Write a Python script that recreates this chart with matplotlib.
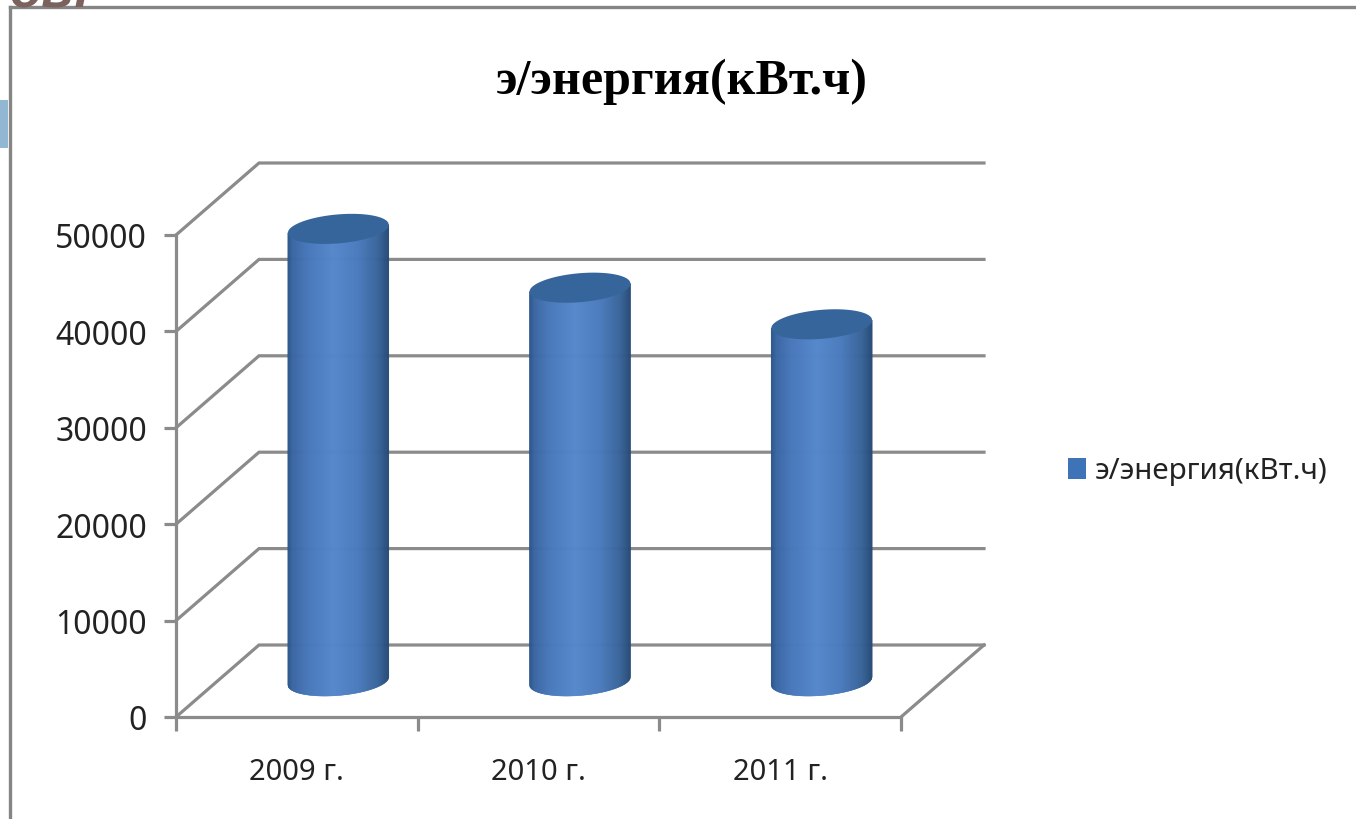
import numpy as np
import matplotlib
matplotlib.use("Agg")
import matplotlib.pyplot as plt
from matplotlib.collections import PolyCollection
from matplotlib.lines import Line2D
from matplotlib.patches import Patch, Polygon, Rectangle
from matplotlib.transforms import IdentityTransform

# --- data ---
categories = ["2009 г.", "2010 г.", "2011 г."]
energy = [46900, 40800, 37000]
y_ticks = [0, 10000, 20000, 30000, 40000, 50000]
series_name = "э/энергия(кВт.ч)"

W, H = 1356, 820
GRID = "#8b8b8b"
LW = 2.3

fig = plt.figure(figsize=(W / 100, H / 100), dpi=100, facecolor="white")
ax = fig.add_axes([176 / W, (H - 718) / H, (901 - 176) / W, 482 / H])
ax.set_xlim(-0.5, len(categories) - 0.5)
ax.set_ylim(0, max(y_ticks))
ax.patch.set_visible(False)

# slide remnants behind the chart
fig.add_artist(Rectangle((0, (H - 149) / H), 8 / W, 48 / H, transform=fig.transFigure,
                         facecolor="#92b7d3", edgecolor="none"))
fig.add_artist(Line2D([10 / W, 10 / W], [0, (H - 8) / H], color="#858585", lw=2.4))
fig.add_artist(Line2D([10 / W, 1], [(H - 8) / H, (H - 8) / H], color="#858585", lw=2.4))
fig.text(9 / W, (H - 7) / H, "ов:", family="Liberation Sans", style="italic", weight="bold",
         fontsize=38, color="#7b625c", ha="left", va="baseline")

# axes styling
for s in ("top", "right"):
    ax.spines[s].set_visible(False)
for s in ("left", "bottom"):
    ax.spines[s].set_color(GRID)
    ax.spines[s].set_linewidth(LW)
ax.set_yticks(y_ticks)
ax.set_yticklabels([str(v) for v in y_ticks], family="Noto Sans", fontsize=23, color="#222222")
ax.tick_params(axis="y", length=8.5, width=LW, color=GRID, pad=12.5)
ax.set_xticks(np.arange(len(categories) + 1) - 0.5)
ax.set_xticklabels([])
ax.tick_params(axis="x", which="major", length=10, width=LW, color=GRID)
ax.set_xticks(np.arange(len(categories)), minor=True)
ax.set_xticklabels(categories, minor=True, family="Noto Sans", fontsize=21, color="#222222")
ax.tick_params(axis="x", which="minor", length=0, pad=29)

# 3-D box: offsets are in pixels
DX, DY = 83, 72
px = IdentityTransform()
x_left, x_right = ax.get_xlim()
for v in y_ticks:
    x0, y0 = ax.transData.transform((x_left, v))
    x1, _ = ax.transData.transform((x_right, v))
    ax.add_line(Line2D([x0, x0 + DX, x1 + DX], [y0, y0 + DY, y0 + DY], transform=px,
                       color=GRID, lw=LW, zorder=1, clip_on=False, solid_joinstyle="miter"))
x0, y0 = ax.transData.transform((x_right, 0))
ax.add_line(Line2D([x0, x0 + DX], [y0, y0 + DY], transform=px, color=GRID, lw=LW,
                   zorder=1, clip_on=False))

# cylinders
A, B, SHEAR = 50.5, 14.5, 0.08
u = np.linspace(-1, 1, 203)
stops_u = [-1, -0.9, -0.6, -0.1, 0.4, 0.8, 1]
stops_rgb = np.array([(0.17, 0.33, 0.53), (0.23, 0.40, 0.64), (0.28, 0.47, 0.73),
                      (0.33, 0.53, 0.80), (0.29, 0.48, 0.74), (0.22, 0.39, 0.60),
                      (0.15, 0.29, 0.46)])
shade = np.column_stack([np.interp(u, stops_u, stops_rgb[:, i]) for i in range(3)])

for i, value in enumerate(energy):
    cx, base = ax.transData.transform((i, 0)) + np.array([DX / 2, DY / 2])
    _, top = ax.transData.transform((i, value)) + np.array([0, DY / 2])
    xs = cx + A * u
    half = B * np.sqrt(1 - u ** 2)
    y_top = top + SHEAR * A * u
    y_bottom = base + SHEAR * A * u - half
    quads = [[(xs[k], y_bottom[k]), (xs[k + 1], y_bottom[k + 1]),
              (xs[k + 1], y_top[k + 1]), (xs[k], y_top[k])] for k in range(len(u) - 1)]
    ax.add_collection(PolyCollection(quads, transform=px, facecolors=shade[:-1],
                                     edgecolors=shade[:-1], linewidths=0.3,
                                     zorder=3, clip_on=False), autolim=False)
    cap = np.concatenate([np.column_stack([xs, y_top + half]),
                          np.column_stack([xs[::-1], (y_top - half)[::-1]])])
    ax.add_patch(Polygon(cap, closed=True, transform=px, facecolor="#36659b",
                         edgecolor="none", zorder=4, clip_on=False))

# title and legend
fig.text(682 / W, (H - 82) / H, series_name, family="Liberation Serif", weight="bold",
         fontsize=36, color="black", ha="center", va="center")
fig.legend(handles=[Patch(facecolor="#3f73b8", edgecolor="none", label=series_name)],
           loc="center left", bbox_to_anchor=(1041 / W, (H - 472) / H), frameon=False,
           prop={"family": "Noto Sans", "size": 21.3}, labelcolor="#222222",
           handlelength=0.61, handleheight=0.71, handletextpad=0.3)

fig.savefig("out.png", dpi=100, facecolor="white")
